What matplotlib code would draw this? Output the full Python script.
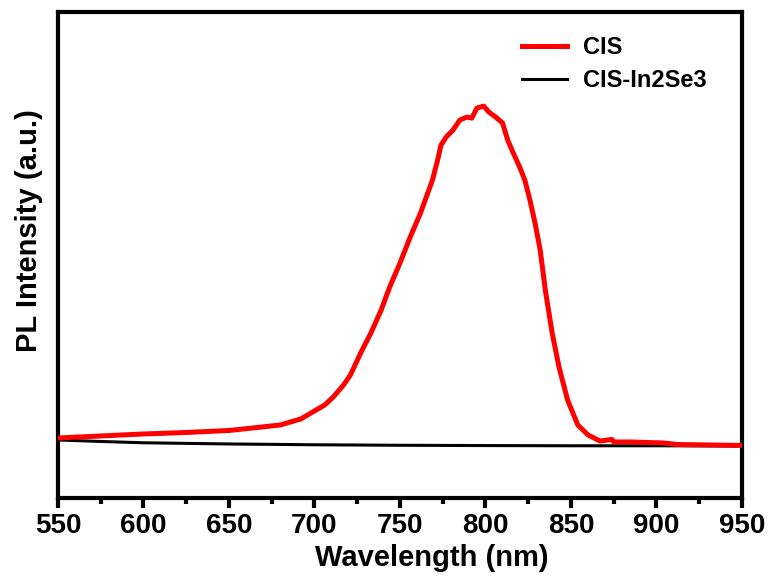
import numpy as np
import matplotlib.pyplot as plt

plt.rcParams['font.family'] = ['Liberation Sans', 'DejaVu Sans']
plt.rcParams['font.weight'] = 'bold'

# CIS emission (arbitrary units)
cis_wl = [550, 575, 600, 625, 650, 664, 680, 692, 698, 706, 711, 717, 721, 727,
          733, 739, 744, 750, 756, 762, 769, 772, 774, 777, 781, 785, 789, 792,
          795, 799, 802, 806, 810, 813, 816, 820, 823, 826, 829, 832, 835, 839,
          843, 848, 854, 860, 867, 874, 875, 885, 904, 912, 950]
cis_int = [70, 90, 110, 125, 145, 170, 200, 260, 320, 400, 480, 600, 700, 920,
           1120, 1350, 1580, 1820, 2080, 2320, 2650, 2850, 3000, 3080, 3150, 3250, 3280, 3270,
           3370, 3390, 3330, 3280, 3220, 3050, 2930, 2780, 2650, 2450, 2220, 1950, 1550, 1120,
           780, 450, 200, 100, 40, 55, 30, 30, 20, 5, -5]

# CIS-In2Se3 (flat, quenched)
cisin_wl = [550, 575, 600, 650, 700, 750, 800, 850, 900, 950]
cisin_int = [50, 35, 22, 10, 2, -3, -6, -8, -8, -10]

fig = plt.figure(figsize=(7.72, 5.77), dpi=100)
ax = fig.add_axes([0.0751, 0.137, 0.886, 0.842])

ax.plot(cis_wl, cis_int, color='#ff0000', lw=3.6, label='CIS', zorder=3)
ax.plot(cisin_wl, cisin_int, color='black', lw=2.2, label='CIS-In2Se3', zorder=2)

ax.set_xlim(550, 950)
ax.set_ylim(-530, 4330)
ax.set_xticks(np.arange(550, 951, 50))
ax.set_xticks(np.arange(575, 950, 50), minor=True)
ax.set_yticks([])
ax.tick_params(axis='x', which='major', direction='out', length=7, width=3,
               labelsize=20, pad=4)
ax.tick_params(axis='x', which='minor', direction='out', length=4, width=3)
for lab in ax.get_xticklabels():
    lab.set_fontweight('bold')
for s in ax.spines.values():
    s.set_linewidth(3)

ax.set_xlabel('Wavelength (nm)', fontsize=21, fontweight='bold')
ax.xaxis.set_label_coords(0.547, -0.095)
ax.set_ylabel('PL Intensity (a.u.)', fontsize=21, fontweight='bold')
ax.yaxis.set_label_coords(-0.022, 0.55)

leg = ax.legend(loc='upper right', bbox_to_anchor=(0.98, 0.995), frameon=False,
                fontsize=17, handlelength=1.9, handletextpad=0.7, labelspacing=0.45)
for t in leg.get_texts():
    t.set_fontweight('bold')

fig.savefig('out.png', dpi=100)
